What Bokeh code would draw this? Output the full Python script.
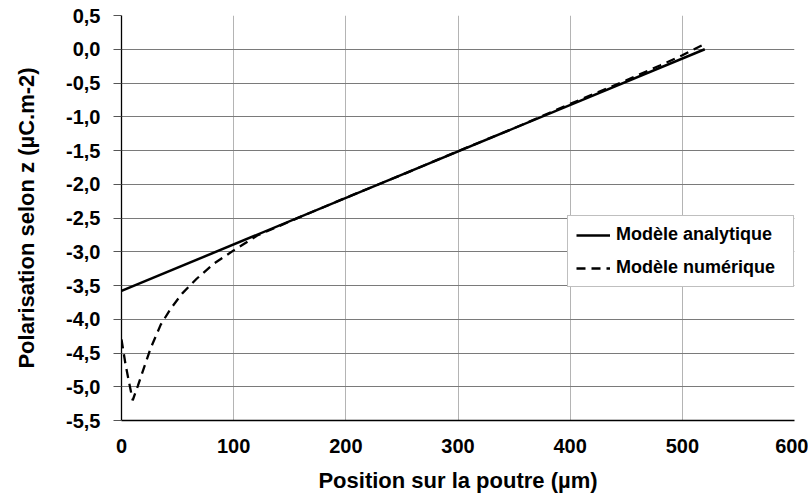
from bokeh.plotting import figure
from bokeh.models import Range1d, FixedTicker, CustomJSTickFormatter, Legend, LegendItem
from bokeh.embed import file_html
from bokeh.resources import INLINE

# Data
x_analytic = [0, 520]
y_analytic = [-3.58, 0.0]

x_numeric = [0, 3.6, 7.4, 10, 14.5, 20, 26, 35, 44, 54, 67, 82, 100, 121, 142, 160,
             200, 250, 300, 350, 400, 450, 480, 500, 520]
y_numeric = [-4.30, -4.67, -4.99, -5.20, -4.99, -4.72, -4.43, -4.08, -3.84, -3.62, -3.40,
             -3.18, -2.98, -2.76, -2.61, -2.48, -2.20, -1.86, -1.51, -1.17, -0.81, -0.46,
             -0.24, -0.09, 0.08]

x_ticks = [0, 100, 200, 300, 400, 500, 600]
y_ticks = [0.5, 0.0, -0.5, -1.0, -1.5, -2.0, -2.5, -3.0, -3.5, -4.0, -4.5, -5.0, -5.5]

FONT = "Liberation Sans"

p = figure(width=808, height=495, output_backend="svg", toolbar_location=None,
           x_range=Range1d(0, 600), y_range=Range1d(-5.5, 0.5),
           min_border_left=121, min_border_right=14, min_border_top=15, min_border_bottom=73)
p.outline_line_color = None
p.background_fill_color = "white"

r1 = p.line(x_analytic, y_analytic, line_color="black", line_width=2.5)
r2 = p.line(x_numeric, y_numeric, line_color="black", line_width=2.3, line_dash="9 6")

p.xaxis.ticker = FixedTicker(ticks=x_ticks)
p.yaxis.ticker = FixedTicker(ticks=y_ticks)
p.yaxis.formatter = CustomJSTickFormatter(code="return tick.toFixed(1).replace('.', ',');")
p.xaxis.formatter = CustomJSTickFormatter(code="return tick.toFixed(0);")

for ax in (p.xaxis[0], p.yaxis[0]):
    ax.axis_line_color = "black"
    ax.axis_line_width = 1.3
    ax.major_label_text_font = FONT
    ax.major_label_text_font_style = "bold"
    ax.major_label_text_font_size = "20px"
    ax.major_label_text_color = "black"
    ax.axis_label_text_font = FONT
    ax.axis_label_text_font_style = "bold"
    ax.axis_label_text_font_size = "22px"
    ax.axis_label_text_color = "black"
    ax.minor_tick_line_color = None

p.xaxis.major_tick_out = 0
p.xaxis.major_tick_in = 0
p.xaxis.major_label_standoff = 18
p.xaxis.axis_label = "Position sur la poutre (µm)"
p.xaxis.axis_label_standoff = 12

p.yaxis.major_tick_out = 8
p.yaxis.major_tick_in = 0
p.yaxis.major_tick_line_color = "#555555"
p.yaxis.major_label_standoff = 13
p.yaxis.axis_label = "Polarisation selon z (µC.m-2)"
p.yaxis.axis_label_standoff = 24

p.xgrid.grid_line_color = "#b4b4b4"
p.xgrid.grid_line_width = 1
p.ygrid.grid_line_color = "#7a7a7a"
p.ygrid.grid_line_width = 1

legend = Legend(items=[LegendItem(label="Modèle analytique", renderers=[r1]),
                       LegendItem(label="Modèle numérique", renderers=[r2])],
                location=(446, 133))
legend.label_text_font = FONT
legend.label_text_font_style = "bold"
legend.label_text_font_size = "18px"
legend.label_text_color = "black"
legend.border_line_color = "#808080"
legend.border_line_width = 1
legend.background_fill_color = "white"
legend.background_fill_alpha = 1
legend.glyph_width = 34
legend.label_standoff = 6
legend.label_width = 169
legend.label_height = 21
legend.spacing = 12
legend.padding = 8
legend.margin = 0
p.add_layout(legend, "center")

open("out.html", "w").write(file_html(p, INLINE))
